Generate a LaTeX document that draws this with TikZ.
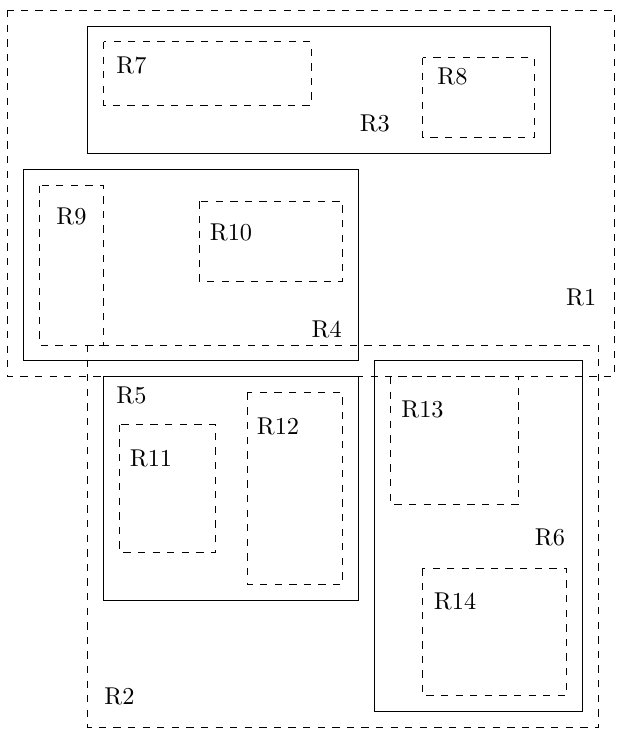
\documentclass[tikz,border=0pt]{standalone}
\begin{document}
\begin{tikzpicture}[x=6.56pt,y=-6.56pt,
  solidbox/.style={draw=black,line width=0.4pt},
  dashbox/.style={draw=black,dashed,line width=0.4pt}]
\useasboundingbox (-0.5,-0.63) rectangle (38.45,45.45);

\draw[dashbox] (0,0) rectangle (38,23);
\draw[dashbox] (5,21) rectangle (37,45);

\draw[solidbox] (5,1) rectangle (34,9);
\draw[solidbox] (1,10) rectangle (22,22);
\draw[solidbox] (6,23) rectangle (22,37);
\draw[solidbox] (23,22) rectangle (36,44);

\draw[dashbox] (6,2) rectangle (19,6);
\draw[dashbox] (26,3) rectangle (33,8);
\draw[dashbox] (2,11) rectangle (6,21);
\draw[dashbox] (12,12) rectangle (21,17);
\draw[dashbox] (7,26) rectangle (13,34);
\draw[dashbox] (15,24) rectangle (21,36);
\draw[dashbox] (24,23) rectangle (32,31);
\draw[dashbox] (26,35) rectangle (35,43);

\node (r1) at (35.94,18.03) {R1};
\node (r2) at (6.99,43.05) {R2};
\node (r3) at (23,7.08) {R3};
\node (r4) at (19.98,20.03) {R4};
\node (r5) at (7.74,24.14) {R5};
\node (r6) at (33.98,33.04) {R6};
\node (r7) at (7.74,3.48) {R7};
\node (r8) at (27.87,4.18) {R8};
\node (r9) at (3.98,12.96) {R9};
\node (r10) at (13.98,13.92) {R10};
\node (r11) at (8.97,28.09) {R11};
\node (r12) at (16.93,26.08) {R12};
\node (r13) at (25.99,25.03) {R13};
\node (r14) at (28.03,37.05) {R14};
\end{tikzpicture}
\end{document}
